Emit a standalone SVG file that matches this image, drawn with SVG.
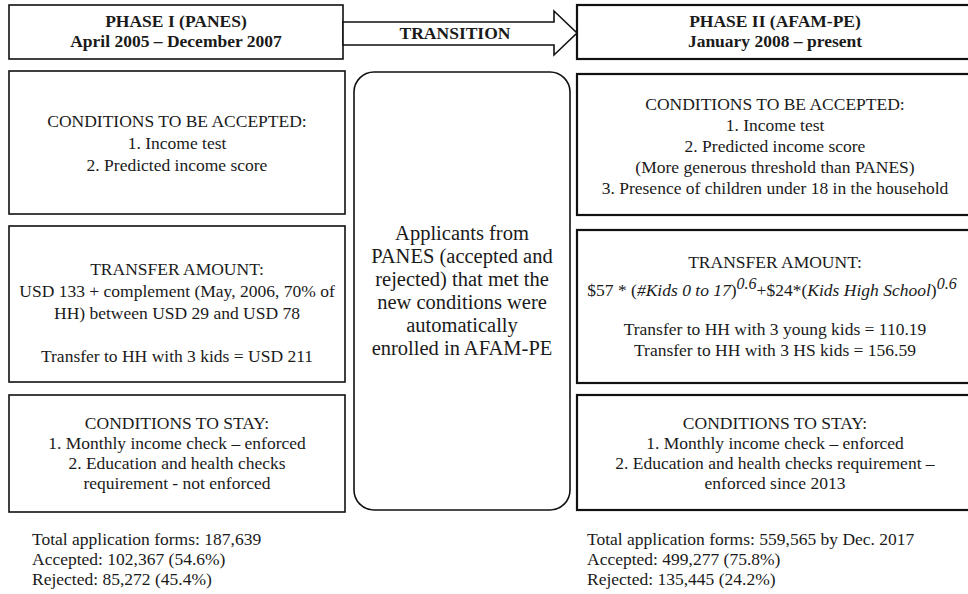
<svg xmlns="http://www.w3.org/2000/svg" width="968" height="594" viewBox="0 0 968 594">
<style>
  text { font-family: "Liberation Serif", "Times New Roman", serif; font-size: 17.5px; fill: #1a1a1a; }
  .c { text-anchor: middle; }
  .b { font-weight: bold; }
  .box { fill: #fff; stroke: #111; stroke-width: 1.6; }
  .boxr { fill: #fff; stroke: #111; stroke-width: 2.2; }
  .big { font-size: 20.5px; }
  .i { font-style: italic; }
  .sup { font-style: italic; font-size: 16px; }
</style>
<rect width="968" height="594" fill="#fff"/>

<g id="phase1-header">
  <rect class="box" x="9" y="5" width="334" height="54"/>
  <text class="c b" x="176" y="27">PHASE I (PANES)</text>
  <text class="c b" x="176" y="47">April 2005 – December 2007</text>
</g>

<g id="phase2-header">
  <rect class="boxr" x="577" y="5" width="400" height="54"/>
  <text class="c b" x="775" y="27">PHASE II (AFAM-PE)</text>
  <text class="c b" x="775" y="47">January 2008 – present</text>
</g>

<g id="connectors">
  <polygon points="343,22 554,22 554,11 577,33 554,55 554,45 343,45" fill="#fff" stroke="#111" stroke-width="1.6" stroke-linejoin="miter"/>
  <text class="c b" x="455" y="39">TRANSITION</text>
</g>

<g id="p1-conditions-accepted">
  <rect class="box" x="9" y="71" width="336" height="143"/>
  <text class="c" x="177" y="127">CONDITIONS TO BE ACCEPTED:</text>
  <text class="c" x="177" y="149">1. Income test</text>
  <text class="c" x="177" y="171">2. Predicted income score</text>
</g>

<g id="p1-transfer-amount">
  <rect class="box" x="9" y="226" width="336" height="156"/>
  <text class="c" x="177" y="275">TRANSFER AMOUNT:</text>
  <text class="c" x="177" y="297">USD 133 + complement (May, 2006, 70% of</text>
  <text class="c" x="177" y="319">HH) between USD 29 and USD 78</text>
  <text class="c" x="177" y="362">Transfer to HH with 3 kids = USD 211</text>
</g>

<g id="p1-conditions-stay">
  <rect class="box" x="9" y="395" width="336" height="117"/>
  <text class="c" x="177" y="429">CONDITIONS TO STAY:</text>
  <text class="c" x="177" y="449">1. Monthly income check – enforced</text>
  <text class="c" x="177" y="469">2. Education and health checks</text>
  <text class="c" x="177" y="489">requirement - not enforced</text>
</g>

<g id="transition-box">
  <rect class="box" x="354" y="72" width="216" height="438" rx="20" ry="20"/>
  <text class="c big" x="462" y="240">Applicants from</text>
  <text class="c big" x="462" y="263">PANES (accepted and</text>
  <text class="c big" x="462" y="286">rejected) that met the</text>
  <text class="c big" x="462" y="309">new conditions were</text>
  <text class="c big" x="462" y="332">automatically</text>
  <text class="c big" x="462" y="355">enrolled in AFAM-PE</text>
</g>

<g id="p2-conditions-accepted">
  <rect class="boxr" x="577" y="74" width="400" height="141"/>
  <text class="c" x="775" y="110">CONDITIONS TO BE ACCEPTED:</text>
  <text class="c" x="775" y="131">1. Income test</text>
  <text class="c" x="775" y="152">2. Predicted income score</text>
  <text class="c" x="775" y="173">(More generous threshold than PANES)</text>
  <text class="c" x="775" y="194">3. Presence of children under 18 in the household</text>
</g>

<g id="p2-transfer-amount">
  <rect class="boxr" x="577" y="230" width="400" height="153"/>
  <text class="c" x="775" y="268">TRANSFER AMOUNT:</text>
  <text class="c" x="772" y="296">$57 * (<tspan class="i">#Kids 0 to 17</tspan>)<tspan class="sup" dy="-7">0.6</tspan><tspan dy="7">+$24*(</tspan><tspan class="i">Kids High School</tspan>)<tspan class="sup" dy="-7">0.6</tspan></text>
  <text class="c" x="775" y="335">Transfer to HH with 3 young kids = 110.19</text>
  <text class="c" x="775" y="356">Transfer to HH with 3 HS kids = 156.59</text>
</g>

<g id="p2-conditions-stay">
  <rect class="boxr" x="577" y="395" width="400" height="115"/>
  <text class="c" x="775" y="429">CONDITIONS TO STAY:</text>
  <text class="c" x="775" y="449">1. Monthly income check – enforced</text>
  <text class="c" x="775" y="469">2. Education and health checks requirement –</text>
  <text class="c" x="775" y="489">enforced since 2013</text>
</g>

<g id="p1-totals">
  <text x="32" y="545">Total application forms: 187,639</text>
  <text x="32" y="565">Accepted: 102,367 (54.6%)</text>
  <text x="32" y="585">Rejected: 85,272 (45.4%)</text>
</g>

<g id="p2-totals">
  <text x="587" y="545">Total application forms: 559,565 by Dec. 2017</text>
  <text x="587" y="565">Accepted: 499,277 (75.8%)</text>
  <text x="587" y="585">Rejected: 135,445 (24.2%)</text>
</g>
</svg>
